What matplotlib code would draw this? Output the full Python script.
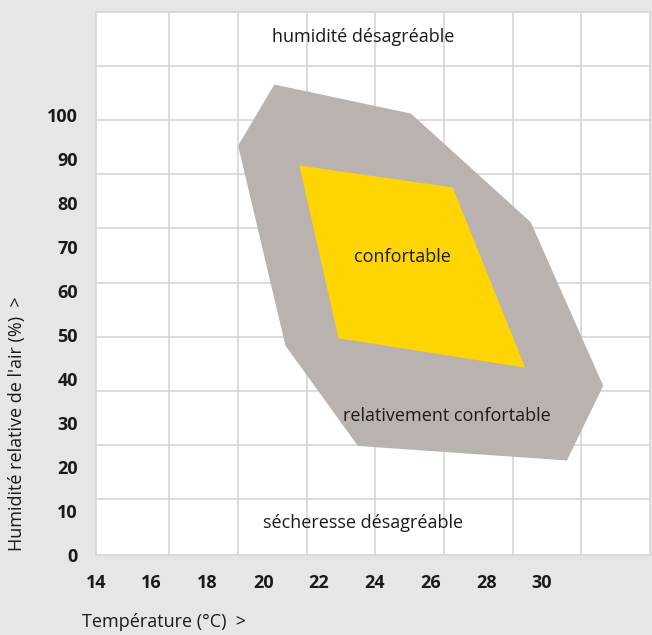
"""Diagramme de confort: température / humidité relative."""
import numpy as np
import matplotlib
matplotlib.use("Agg")
import matplotlib.pyplot as plt

plt.rcParams["font.family"] = ["Open Sans", "DejaVu Sans"]

# ---------- données ----------
x_ticks = [14, 16, 18, 20, 22, 24, 26, 28, 30]
y_ticks = [0, 10, 20, 30, 40, 50, 60, 70, 80, 90, 100]

# zone "relativement confortable" (température °C, humidité %)
outer_t = [19.1, 20.4, 25.3, 29.6, 32.2, 30.9, 23.4, 20.8]
outer_h = [93.1, 107.0, 100.4, 75.7, 38.5, 21.5, 24.8, 47.6]
# zone "confortable"
inner_t = [21.3, 26.8, 29.4, 22.7]
inner_h = [88.6, 83.6, 42.6, 49.3]

zone_labels = ["humidité désagréable", "confortable",
               "relativement confortable", "sécheresse désagréable"]
zone_t = [23.6, 25.0, 26.6, 23.6]
zone_h = [117.8, 67.7, 31.7, 7.2]

BG = "#e6e6e6"
GRID = "#d5d5d5"
GRAY = "#bab2ae"
YELLOW = "#fed500"
INK = "#1a1a1a"

fig = plt.figure(figsize=(6.52, 6.35), dpi=100, facecolor=BG)
ax = fig.add_axes([96 / 652, 1 - 555 / 635, 554 / 652, 543 / 635])
ax.set_facecolor("white")
xlim = (14.17, 33.88)
ylim = (0.4, 123.5)
ax.set_xlim(*xlim)
ax.set_ylim(*ylim)

# grille décorative 8 x 10 (indépendante des graduations)
ax.set_xticks(np.linspace(*xlim, 9)[1:-1], minor=True)
ax.set_yticks(np.linspace(*ylim, 11)[1:-1], minor=True)
ax.grid(which="minor", color=GRID, lw=1.2)
ax.set_axisbelow(True)
for s in ax.spines.values():
    s.set_color(GRID)
    s.set_linewidth(1.2)

ax.fill(outer_t, outer_h, color=GRAY, lw=0, zorder=2)
ax.fill(inner_t, inner_h, color=YELLOW, lw=0, zorder=3)

for lab, t, h in zip(zone_labels, zone_t, zone_h):
    ax.text(t, h, lab, ha="center", va="center", fontsize=13,
            color=INK, zorder=4)

ax.set_xticks(x_ticks)
ax.set_yticks(y_ticks)
ax.tick_params(which="both", length=0)
ax.tick_params(axis="x", pad=14)
ax.tick_params(axis="y", pad=13)
for lab in ax.get_xticklabels() + ax.get_yticklabels():
    lab.set_fontweight("bold")
    lab.set_fontsize(13)
    lab.set_color(INK)

fig.text(17 / 652, 1 - 424 / 635, "Humidité relative de l'air (%)  >",
         rotation=90, ha="center", va="center", fontsize=13, color=INK)
fig.text(82 / 652, 1 - 622 / 635, "Température (°C)  >",
         ha="left", va="center", fontsize=13, color=INK)

fig.savefig("out.png", dpi=100, facecolor=BG)
